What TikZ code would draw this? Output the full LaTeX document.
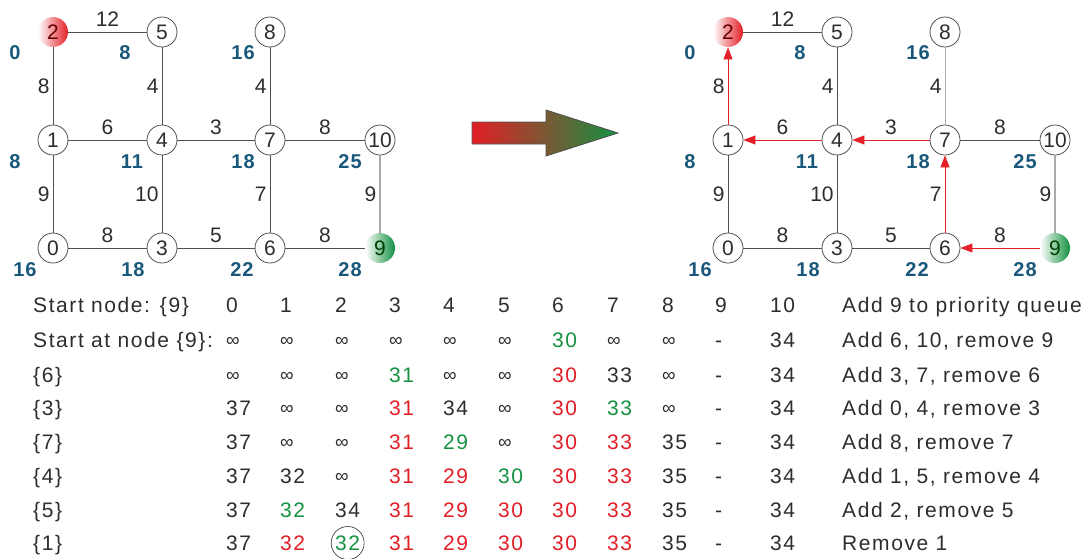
\documentclass[tikz,border=0pt]{standalone}
\usepackage{fontspec}
\setmainfont{Liberation Sans}
\newfontfamily\tabfont[LetterSpace=7.5]{Liberation Sans}
\newfontfamily\distfont[LetterSpace=5]{Liberation Sans}
\usetikzlibrary{arrows.meta}

\definecolor{ink}{RGB}{45,45,45}
\definecolor{edgegray}{RGB}{80,80,80}
\definecolor{lightedge}{RGB}{170,170,170}
\definecolor{hotred}{RGB}{226,30,38}
\definecolor{leafgreen}{RGB}{20,145,65}
\definecolor{distblue}{RGB}{25,88,122}
\definecolor{pathred}{RGB}{228,32,40}

\tikzset{
  vtx/.style={circle, draw=edgegray, line width=0.8pt, fill=white, minimum size=30pt,
    inner sep=0pt, text=ink, font=\fontsize{21}{21}\selectfont},
  srcvtx/.style={vtx, draw=none, left color=white, right color=hotred, text=red!40!black},
  dstvtx/.style={vtx, draw=none, left color=white, right color=leafgreen, text=green!25!black},
  wire/.style={draw=edgegray, line width=0.8pt},
  softwire/.style={draw=lightedge, line width=1.6pt},
  thinsoft/.style={draw=lightedge, line width=1pt},
  wt/.style={text=ink, inner sep=0pt, font=\fontsize{21}{21}\selectfont},
  hw/.style={wt, midway, yshift=13pt},
  vw/.style={wt, midway, left=3pt},
  dist/.style={text=distblue, inner sep=0pt, font=\distfont\fontsize{20}{20}\bfseries\selectfont},
  tree/.style={draw=pathred, line width=0.8pt, -{Triangle[length=12pt,width=9pt]}},
  cell/.style={anchor=west, inner sep=0pt, text height=15pt, text depth=0pt, text=ink,
    font=\tabfont\fontsize{21}{21}\selectfont},
  num/.style={cell},
  grn/.style={cell, text=leafgreen},
  red/.style={cell, text=hotred},
  inf/.style={cell, text height=12.5pt, font=\fontsize{19}{19}\selectfont},
  ring/.style={circle, draw=ink, line width=0.6pt, minimum size=33pt, inner sep=0pt},
}

% the eleven vertices and their distance labels, names prefixed by #1
\newcommand\placevertices[1]{%
  \node[srcvtx] (#1-2) at (53,32) {2};
  \node[vtx] (#1-5) at (162,32) {5};
  \node[vtx] (#1-8) at (270,32) {8};
  \node[vtx] (#1-1) at (53,140) {1};
  \node[vtx] (#1-4) at (162,140) {4};
  \node[vtx] (#1-7) at (270,140) {7};
  \node[vtx] (#1-10) at (380,140) {10};
  \node[vtx] (#1-0) at (53,248) {0};
  \node[vtx] (#1-3) at (162,248) {3};
  \node[vtx] (#1-6) at (270,248) {6};
  \node[dstvtx] (#1-9) at (380,248) {9};
  \node[dist] (#1-d2) at (15,53) {0};
  \node[dist] (#1-d5) at (125,53) {8};
  \node[dist] (#1-d8) at (243,53) {16};
  \node[dist] (#1-d1) at (15,162) {8};
  \node[dist] (#1-d4) at (132,162) {11};
  \node[dist] (#1-d7) at (243,162) {18};
  \node[dist] (#1-d10) at (350,162) {25};
  \node[dist] (#1-d0) at (25,270) {16};
  \node[dist] (#1-d3) at (133,270) {18};
  \node[dist] (#1-d6) at (242,270) {22};
  \node[dist] (#1-d9) at (350,270) {28};
}

% one row of the table: index, y, step label, cells (value/style), action
\newcommand\tabrow[5]{%
  \node[cell] (row#1-lbl) at (33,#2) {#3};
  \foreach \v/\s [count=\c from 0] in {#4} {
    \pgfmathsetmacro\cx{{226,280,335,389,443,498,552,607,662,715,770}[\c]}
    \node[\s] (row#1-c\c) at (\cx,#2) {\v};
  }
  \node[cell] (row#1-act) at (842,#2) {#5};
}

\begin{document}
\begin{tikzpicture}[x=1pt, y=-1pt]
\useasboundingbox (0,0) rectangle (1092,558);

% ---- graph before the search ----
\begin{scope}
  \placevertices{a}
  \draw[wire] (a-2) -- node[hw]{12} (a-5);
  \draw[wire] (a-2) -- node[vw]{8} (a-1);
  \draw[wire] (a-5) -- node[vw]{4} (a-4);
  \draw[wire] (a-8) -- node[vw]{4} (a-7);
  \draw[wire] (a-1) -- node[hw]{6} (a-4);
  \draw[wire] (a-4) -- node[hw]{3} (a-7);
  \draw[wire] (a-7) -- node[hw]{8} (a-10);
  \draw[wire] (a-1) -- node[vw]{9} (a-0);
  \draw[wire] (a-4) -- node[vw]{10} (a-3);
  \draw[wire] (a-7) -- node[vw]{7} (a-6);
  \draw[softwire] (a-10) -- node[vw]{9} (a-9);
  \draw[wire] (a-0) -- node[hw]{8} (a-3);
  \draw[wire] (a-3) -- node[hw]{5} (a-6);
  \draw[wire] (a-6) -- node[hw]{8} (a-9);
\end{scope}

% ---- transition arrow ----
\path[draw=edgegray, line width=0.8pt, left color=hotred, right color=leafgreen]
  (472,122) -- (546,122) -- (546,110) -- (618,133) -- (546,156) -- (546,144) -- (472,144) -- cycle;

% ---- graph with the shortest path tree ----
\begin{scope}[xshift=675pt]
  \placevertices{b}
  \draw[wire] (b-2) -- node[hw]{12} (b-5);
  \draw[tree] (b-1) -- node[vw]{8} (b-2);
  \draw[wire] (b-5) -- node[vw]{4} (b-4);
  \draw[thinsoft] (b-8) -- node[vw]{4} (b-7);
  \draw[tree] (b-4) -- node[hw]{6} (b-1);
  \draw[tree] (b-7) -- node[hw]{3} (b-4);
  \draw[wire] (b-7) -- node[hw]{8} (b-10);
  \draw[wire] (b-1) -- node[vw]{9} (b-0);
  \draw[wire] (b-4) -- node[vw]{10} (b-3);
  \draw[tree] (b-6) -- node[vw]{7} (b-7);
  \draw[softwire] (b-10) -- node[vw]{9} (b-9);
  \draw[wire] (b-0) -- node[hw]{8} (b-3);
  \draw[wire] (b-3) -- node[hw]{5} (b-6);
  \draw[tree] (b-9) -- node[hw]{8} (b-6);
\end{scope}

% ---- table of tentative distances ----
\tabrow{1}{305}{Start node: \{9\}}{0/num,1/num,2/num,3/num,4/num,5/num,6/num,7/num,8/num,9/num,10/num}{Add 9 to priority queue}
\tabrow{2}{340}{Start at node \{9\}:}{∞/inf,∞/inf,∞/inf,∞/inf,∞/inf,∞/inf,30/grn,∞/inf,∞/inf,-/num,34/num}{Add 6, 10, remove 9}
\tabrow{3}{375}{\{6\}}{∞/inf,∞/inf,∞/inf,31/grn,∞/inf,∞/inf,30/red,33/num,∞/inf,-/num,34/num}{Add 3, 7, remove 6}
\tabrow{4}{408}{\{3\}}{37/num,∞/inf,∞/inf,31/red,34/num,∞/inf,30/red,33/grn,∞/inf,-/num,34/num}{Add 0, 4, remove 3}
\tabrow{5}{442}{\{7\}}{37/num,∞/inf,∞/inf,31/red,29/grn,∞/inf,30/red,33/red,35/num,-/num,34/num}{Add 8, remove 7}
\tabrow{6}{476}{\{4\}}{37/num,32/num,∞/inf,31/red,29/red,30/grn,30/red,33/red,35/num,-/num,34/num}{Add 1, 5, remove 4}
\tabrow{7}{510}{\{5\}}{37/num,32/grn,34/num,31/red,29/red,30/red,30/red,33/red,35/num,-/num,34/num}{Add 2, remove 5}
\tabrow{8}{543}{\{1\}}{37/num,32/red,32/grn,31/red,29/red,30/red,30/red,33/red,35/num,-/num,34/num}{Remove 1}
\node[ring] (final) at (row8-c2.center) {};
\end{tikzpicture}
\end{document}
